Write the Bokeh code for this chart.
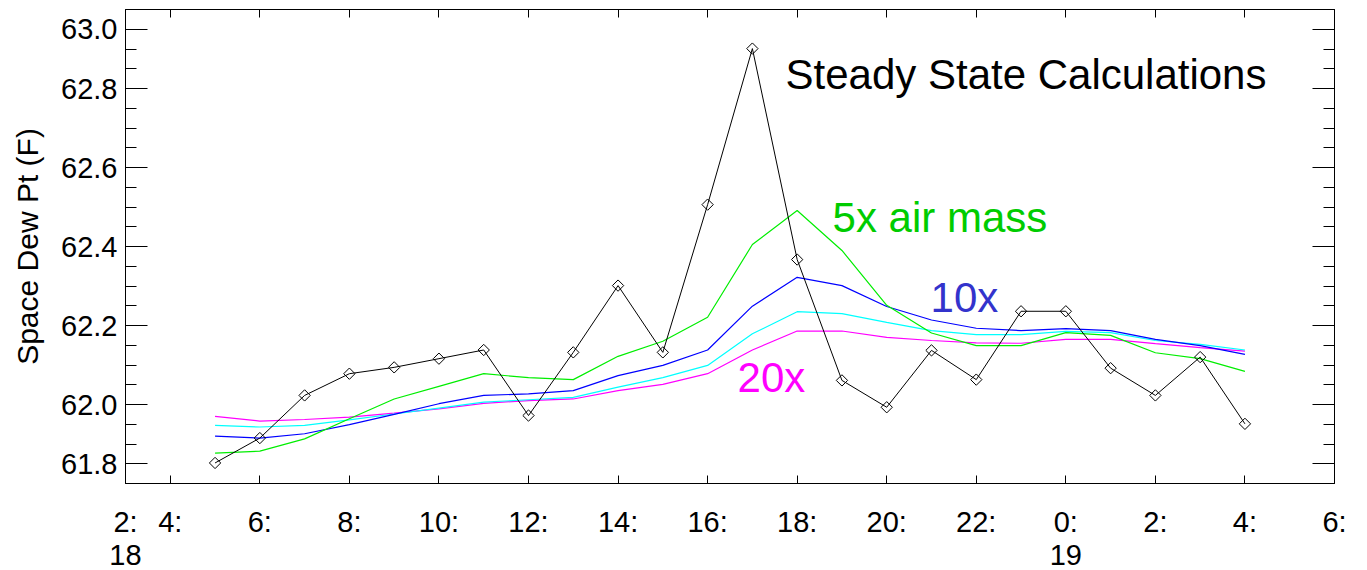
from bokeh.plotting import figure
from bokeh.models import Range1d, LinearAxis, FixedTicker, Label, CustomJSTickFormatter
from bokeh.embed import file_html
from bokeh.resources import INLINE
import math

# hours since 00:00 on day 18 (24 = 0: on day 19)
hours = [5, 6, 7, 8, 9, 10, 11, 12, 13, 14, 15, 16, 17, 18, 19, 20, 21, 22, 23, 24, 25, 26, 27, 28]
observed = [61.852, 61.915, 62.023, 62.078, 62.094, 62.116, 62.138, 61.972, 62.132, 62.301, 62.132, 62.506,
            62.901, 62.367, 62.061, 61.993, 62.137, 62.063, 62.236, 62.236, 62.092, 62.023, 62.120, 61.951]
air5 = [61.877, 61.882, 61.913, 61.964, 62.014, 62.046, 62.078, 62.068, 62.063, 62.122, 62.160, 62.221,
        62.405, 62.491, 62.390, 62.251, 62.181, 62.149, 62.149, 62.182, 62.175, 62.131, 62.116, 62.084]
air10 = [61.920, 61.915, 61.926, 61.949, 61.975, 62.002, 62.023, 62.027, 62.035, 62.073, 62.099, 62.138,
         62.249, 62.322, 62.301, 62.248, 62.214, 62.193, 62.187, 62.192, 62.187, 62.165, 62.149, 62.127]
air15 = [61.947, 61.943, 61.947, 61.961, 61.976, 61.991, 62.006, 62.012, 62.018, 62.044, 62.068, 62.099,
         62.179, 62.235, 62.230, 62.208, 62.187, 62.177, 62.177, 62.185, 62.182, 62.162, 62.152, 62.138]
air20 = [61.970, 61.958, 61.962, 61.968, 61.978, 61.989, 62.003, 62.010, 62.014, 62.035, 62.051, 62.078,
         62.138, 62.186, 62.186, 62.170, 62.162, 62.156, 62.155, 62.165, 62.165, 62.154, 62.144, 62.135]

xtick_pos = [3, 4, 6, 8, 10, 12, 14, 16, 18, 20, 22, 24, 26, 28, 30]
xtick_text = ["2:", "4:", "6:", "8:", "10:", "12:", "14:", "16:", "18:", "20:", "22:", "0:", "2:", "4:", "6:"]
day_pos = [3, 24]
day_text = ["18", "19"]
ytick_pos = [61.85, 62.0, 62.2, 62.4, 62.6, 62.8, 62.95]
ytick_text = ["61.8", "62.0", "62.2", "62.4", "62.6", "62.8", "63.0"]
yminor_pos = [61.9, 61.95, 62.05, 62.1, 62.15, 62.25, 62.3, 62.35, 62.45, 62.5, 62.55,
              62.65, 62.7, 62.75, 62.85, 62.9]

FONT = "Liberation Sans"

p = figure(width=1360, height=570, x_range=Range1d(3, 30), y_range=Range1d(61.8, 63.0),
           output_backend="svg", toolbar_location=None,
           min_border_left=125, min_border_right=26, min_border_top=9, min_border_bottom=87)
p.xgrid.visible = False
p.ygrid.visible = False
p.outline_line_color = "black"
p.outline_line_width = 1
p.background_fill_color = "white"
p.border_fill_color = "white"

# bottom axis
xa = p.xaxis[0]
xa.ticker = FixedTicker(ticks=xtick_pos)
xa.major_label_overrides = dict(zip(xtick_pos, xtick_text))
xa.major_tick_in = 8
xa.major_tick_out = 0
xa.minor_tick_in = 0
xa.minor_tick_out = 0
xa.major_label_text_font = FONT
xa.major_label_text_font_size = "29px"
xa.major_label_text_color = "black"
xa.major_label_standoff = 22
xa.axis_line_color = "black"
xa.major_tick_line_color = "black"

# day line below
da = LinearAxis(ticker=FixedTicker(ticks=day_pos), major_label_overrides=dict(zip(day_pos, day_text)),
                major_tick_in=0, major_tick_out=0, minor_tick_in=0, minor_tick_out=0,
                axis_line_color=None, major_tick_line_color=None, minor_tick_line_color=None,
                major_label_text_font=FONT, major_label_text_font_size="29px",
                major_label_text_color="black", major_label_standoff=4)
p.add_layout(da, "below")

# left axis
ya = p.yaxis[0]
ya.ticker = FixedTicker(ticks=ytick_pos, minor_ticks=yminor_pos)
ya.major_label_overrides = dict(zip(ytick_pos, ytick_text))
ya.major_tick_in = 22
ya.major_tick_out = 0
ya.minor_tick_in = 11
ya.minor_tick_out = 0
ya.major_label_text_font = FONT
ya.major_label_text_font_size = "29px"
ya.major_label_text_color = "black"
ya.major_label_standoff = 8
ya.axis_line_color = "black"
ya.axis_label = "Space Dew Pt (F)"
ya.axis_label_text_font = FONT
ya.axis_label_text_font_size = "30px"
ya.axis_label_text_font_style = "normal"
ya.axis_label_text_color = "black"
ya.axis_label_standoff = 14

blank = CustomJSTickFormatter(code="return ''")

ra = LinearAxis(ticker=FixedTicker(ticks=ytick_pos, minor_ticks=yminor_pos), formatter=blank,
                major_tick_in=22, major_tick_out=0, minor_tick_in=11, minor_tick_out=0,
                major_label_text_font_size="0px", major_label_standoff=0, axis_line_color="black")
p.add_layout(ra, "right")

ta = LinearAxis(ticker=FixedTicker(ticks=xtick_pos), formatter=blank,
                major_tick_in=8, major_tick_out=0, minor_tick_in=0, minor_tick_out=0,
                major_label_text_font_size="0px", major_label_standoff=0, axis_line_color="black")
p.add_layout(ta, "above")

# series
p.line(hours, air20, line_color="#ff00ff", line_width=1.2)
p.line(hours, air15, line_color="#00ffff", line_width=1.2)
p.line(hours, air10, line_color="#0000ff", line_width=1.2)
p.line(hours, air5, line_color="#00ee00", line_width=1.2)
p.line(hours, observed, line_color="black", line_width=1)
p.scatter(hours, observed, marker="square", angle=math.pi / 4, size=8,
          fill_color=None, line_color="black", line_width=1)

p.add_layout(Label(x=17.74, y=62.835, text="Steady State Calculations", text_font=FONT,
                   text_font_size="42px", text_color="black", text_baseline="alphabetic"))
p.add_layout(Label(x=18.79, y=62.473, text="5x air mass", text_font=FONT,
                   text_font_size="42px", text_color="#00cc00", text_baseline="alphabetic"))
p.add_layout(Label(x=20.98, y=62.270, text="10x", text_font=FONT,
                   text_font_size="42px", text_color="#3333cc", text_baseline="alphabetic"))
p.add_layout(Label(x=16.67, y=62.068, text="20x", text_font=FONT,
                   text_font_size="42px", text_color="#ff00ff", text_baseline="alphabetic"))

open("out.html", "w").write(file_html(p, INLINE))
